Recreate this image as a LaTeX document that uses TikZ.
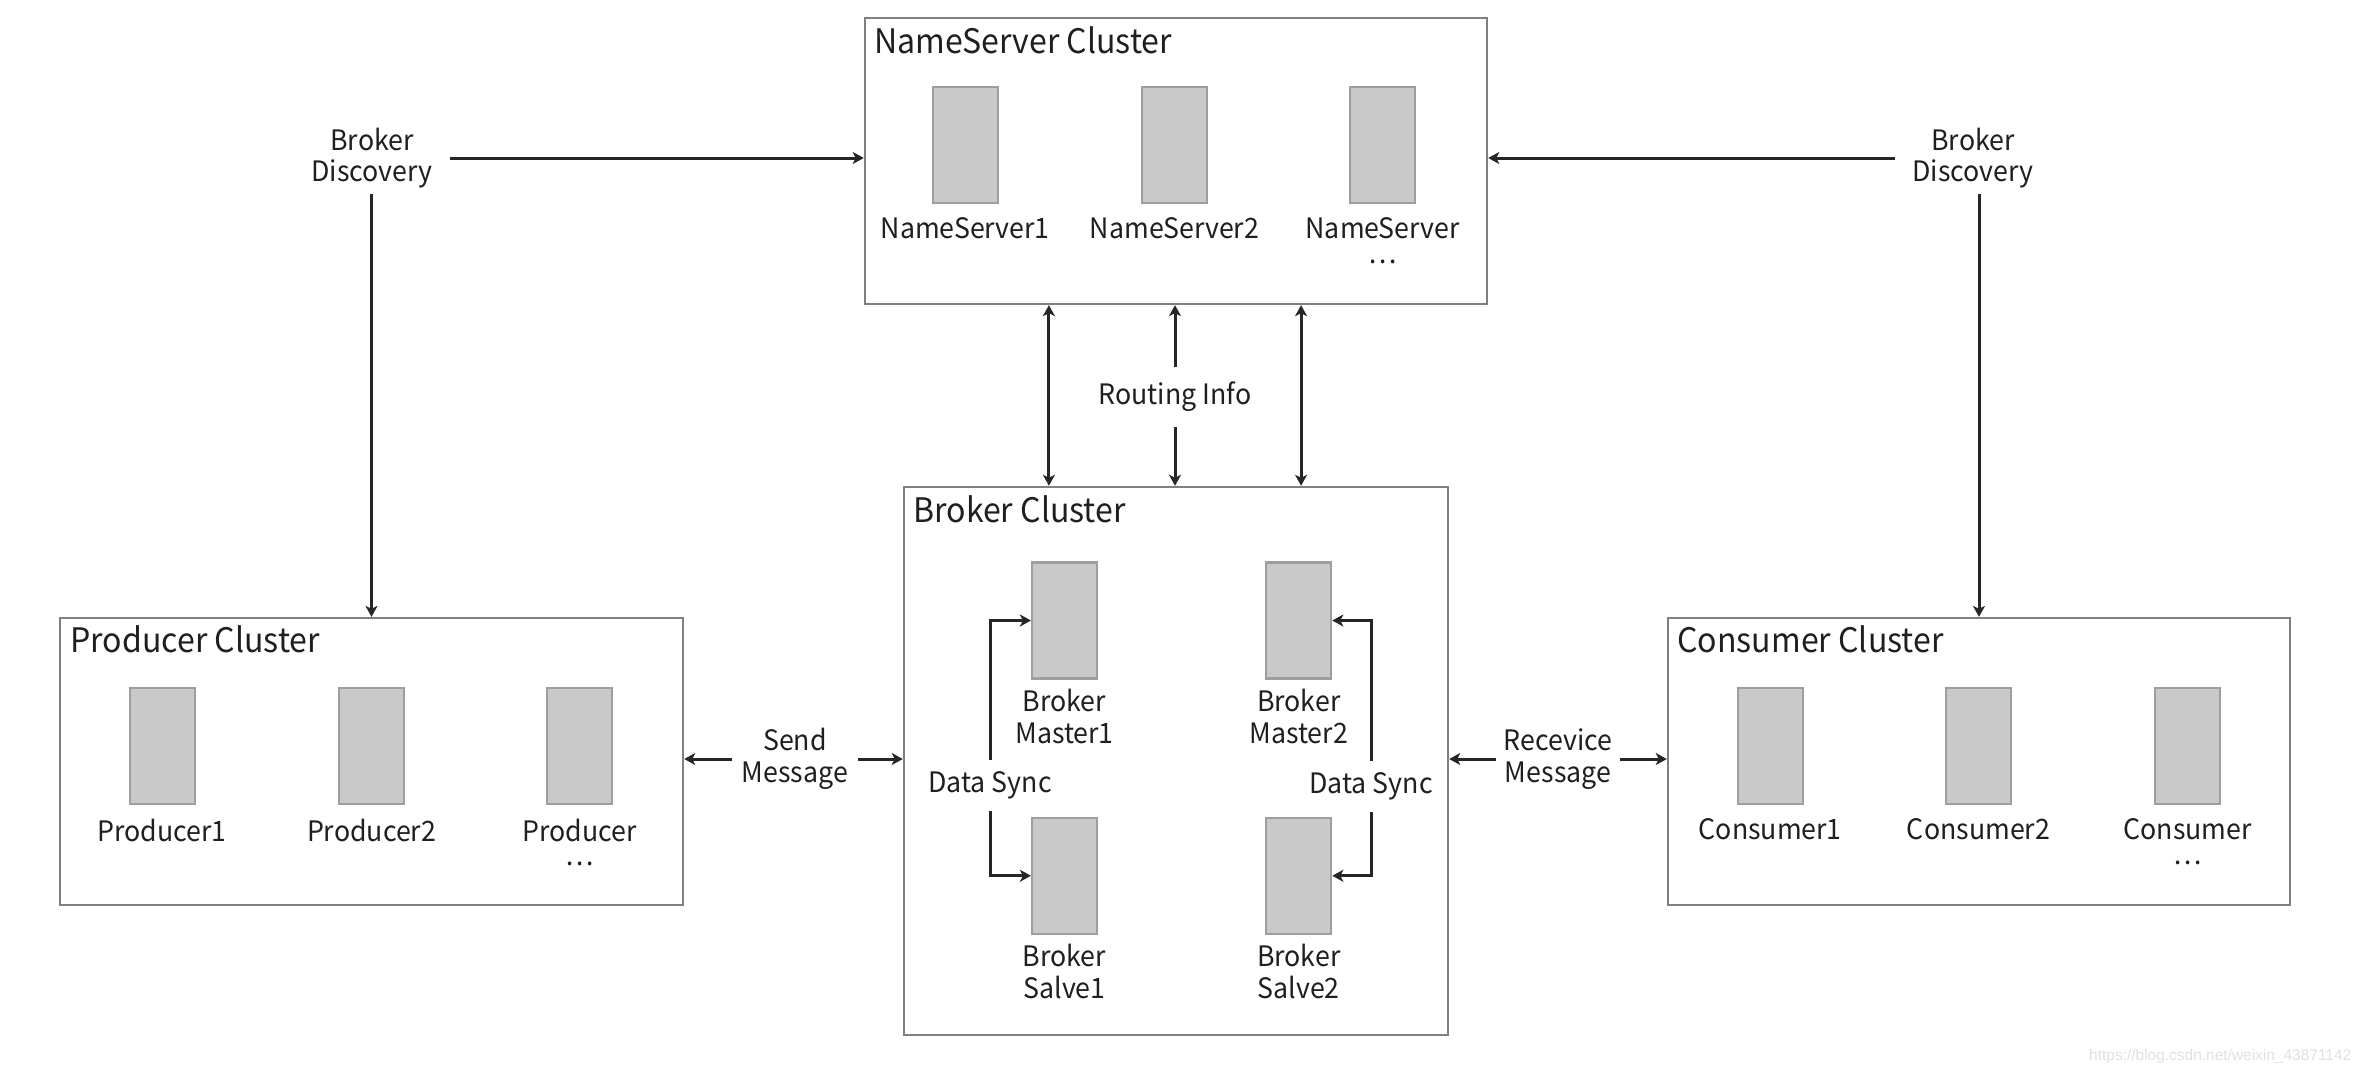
\documentclass[tikz,border=0pt]{standalone}
\usepackage{fontspec}
\setmainfont[FakeStretch=0.95]{Noto Sans CJK SC}
\newfontfamily\wmfont{Liberation Sans}
\usetikzlibrary{arrows.meta, positioning}

\tikzset{
  cluster/.style = {draw=black!50, line width=0.6pt, rectangle, inner sep=0pt},
  server/.style = {draw=black!38, fill=black!21, line width=0.6pt, minimum width=0.65cm, minimum height=1.16cm, inner sep=0pt},
  ctitle/.style = {font=\fontsize{9.6}{12}\selectfont, text=black!88, inner sep=0pt, anchor=base west},
  srvlabel/.style = {font=\fontsize{8}{9}\selectfont, text=black!88, inner sep=0pt, align=center},
  flow/.style = {-{Stealth[length=1.1mm, width=1.2mm, inset=0.3mm]}, line width=0.85pt, black!85},
  duplex/.style = {{Stealth[length=1.1mm, width=1.2mm, inset=0.3mm]}-{Stealth[length=1.1mm, width=1.2mm, inset=0.3mm]}, line width=0.85pt, black!85},
}

\begin{document}
\begin{tikzpicture}[x=0.01cm, y=-0.01cm, node distance=0.13cm]
    \useasboundingbox (0,0) rectangle (2362,1072);

    % clusters
    \node (ns) [cluster, minimum width=6.22cm, minimum height=2.86cm] at (1176,161) {};
    \node (broker) [cluster, minimum width=5.44cm, minimum height=5.48cm] at (1176,761) {};
    \node (prod) [cluster, minimum width=6.23cm, minimum height=2.87cm] at (371.5,761.5) {};
    \node (cons) [cluster, minimum width=6.22cm, minimum height=2.87cm] at (1979,761.5) {};

    \node (nstitle) [ctitle] at ([xshift=0.1cm, yshift=-0.37cm]ns.north west) {NameServer Cluster};
    \node (brtitle) [ctitle] at ([xshift=0.1cm, yshift=-0.37cm]broker.north west) {Broker Cluster};
    \node (prtitle) [ctitle] at ([xshift=0.11cm, yshift=-0.36cm]prod.north west) {Producer Cluster};
    \node (cotitle) [ctitle] at ([xshift=0.1cm, yshift=-0.36cm]cons.north west) {Consumer Cluster};

    % name servers
    \node (ns2) [server] at (1174.5,145) {};
    \node (ns1) [server, left=1.42cm of ns2] {};
    \node (ns3) [server, right=1.41cm of ns2] {};
    \node (ns1l) [srvlabel, below=of ns1] {NameServer1};
    \node (ns2l) [srvlabel, below=of ns2] {NameServer2};
    \node (ns3l) [srvlabel, below=of ns3] {NameServer\\[-2pt]…};

    % brokers
    \node (m1) [server] at (1064.5,620.5) {};
    \node (m2) [server, right=1.67cm of m1] {};
    \node (s1) [server, below=1.37cm of m1] {};
    \node (s2) [server, below=1.37cm of m2] {};
    \node (m1l) [srvlabel, below=0.09cm of m1] {Broker\\Master1};
    \node (m2l) [srvlabel, below=0.09cm of m2] {Broker\\Master2};
    \node (s1l) [srvlabel, below=0.09cm of s1] {Broker\\Salve1};
    \node (s2l) [srvlabel, below=0.09cm of s2] {Broker\\Salve2};

    % producers
    \node (p2) [server] at (371.5,746) {};
    \node (p1) [server, left=1.42cm of p2] {};
    \node (p3) [server, right=1.41cm of p2] {};
    \node (p1l) [srvlabel, below=of p1] {Producer1};
    \node (p2l) [srvlabel, below=of p2] {Producer2};
    \node (p3l) [srvlabel, below=of p3] {Producer\\[-2pt]…};

    % consumers
    \node (c2) [server] at (1978.5,746) {};
    \node (c1) [server, left=1.41cm of c2] {};
    \node (c3) [server, right=1.42cm of c2] {};
    \node (c1l) [srvlabel, below=of c1] {Consumer1};
    \node (c2l) [srvlabel, below=of c2] {Consumer2};
    \node (c3l) [srvlabel, below=of c3] {Consumer\\[-2pt]…};

    % connector labels
    \node (bdl) [srvlabel, inner xsep=0.17cm, inner ysep=0.05cm] at (372,158) {Broker\\Discovery};
    \node (bdr) [srvlabel, inner xsep=0.17cm, inner ysep=0.05cm] at (1973,158) {Broker\\Discovery};
    \node (ri) [srvlabel, inner ysep=0.14cm] at (1175,397) {Routing Info};
    \node (ds1) [srvlabel, inner ysep=0.11cm] at (990,785) {Data Sync};
    \node (ds2) [srvlabel, inner ysep=0.11cm] at (1371,786) {Data Sync};
    \node (sm) [srvlabel, inner xsep=0.09cm] at (795,759) {Send\\Message};
    \node (rm) [srvlabel, inner xsep=0.07cm] at (1558,759) {Recevice\\Message};

    % discovery
    \draw[flow] (bdl.east) -- (bdl.east -| ns.west);
    \draw[flow] (bdl.south -| prod.north) -- (prod.north);
    \draw[flow] (bdr.west) -- (bdr.west -| ns.east);
    \draw[flow] (bdr.south -| cons.north) -- (cons.north);

    % routing info
    \draw[duplex] ([xshift=-1.27cm]ns.south) -- ([xshift=-1.27cm]ns.south |- broker.north);
    \draw[duplex] ([xshift=1.25cm]ns.south) -- ([xshift=1.25cm]ns.south |- broker.north);
    \draw[flow] (ri.north) -- (ri.north |- ns.south);
    \draw[flow] (ri.south) -- (ri.south |- broker.north);

    % data sync
    \draw[flow] (ds1.north) |- (m1.west);
    \draw[flow] (ds1.south) |- (s1.west);
    \draw[flow] (ds2.north) |- (m2.east);
    \draw[flow] (ds2.south) |- (s2.east);

    % messages
    \draw[flow] (sm.west) -- (sm.west -| prod.east);
    \draw[flow] (sm.east) -- (sm.east -| broker.west);
    \draw[flow] (rm.west) -- (rm.west -| broker.east);
    \draw[flow] (rm.east) -- (rm.east -| cons.west);

    \node (wm) [font=\wmfont\fontsize{4.4}{5}\selectfont, text=black!12, anchor=east, inner sep=0pt] at (2352,1056) {https://blog.csdn.net/weixin\_43871142};
\end{tikzpicture}
\end{document}
